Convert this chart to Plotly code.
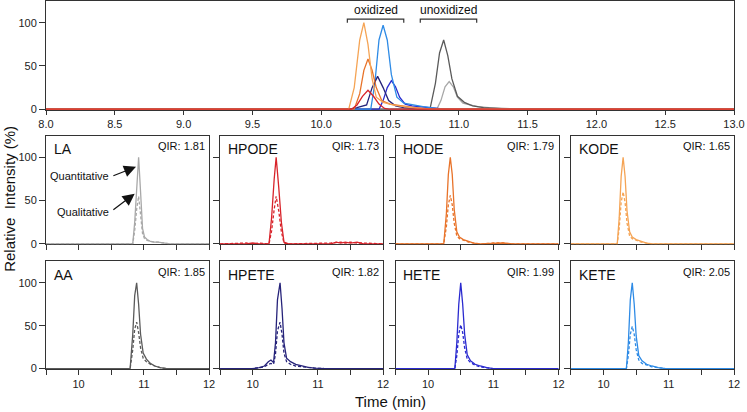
import plotly.graph_objects as go

# ---------------- data ----------------
# Top panel (overlay of quantitative transitions, relative to the strongest peak)
kode_top_t = [8.0, 10.20, 10.24, 10.28, 10.31, 10.34, 10.37, 10.40, 10.45, 10.52, 10.60, 10.70, 10.80, 13.0]
kode_top_v = [0, 0, 25, 80, 100, 75, 35, 14, 8, 5, 3, 1, 0, 0]
hode_top_t = [8.0, 10.24, 10.28, 10.31, 10.34, 10.37, 10.40, 10.44, 10.50, 10.58, 10.68, 10.80, 13.0]
hode_top_v = [0, 0, 18, 45, 58, 45, 25, 10, 6, 4, 2, 0, 0]
hpode_top_t = [8.0, 10.22, 10.26, 10.30, 10.34, 10.38, 10.42, 10.46, 10.50, 13.0]
hpode_top_v = [0, 0, 5, 15, 22, 15, 6, 1, 0, 0]
hpete_top_t = [8.0, 10.20, 10.26, 10.30, 10.33, 10.37, 10.41, 10.45, 10.49, 10.54, 10.60, 10.70, 10.80, 13.0]
hpete_top_v = [0, 0, 2, 4, 5, 25, 38, 25, 10, 4, 2, 1, 0, 0]
kete_top_t = [8.0, 10.36, 10.39, 10.42, 10.45, 10.48, 10.51, 10.55, 10.60, 10.66, 10.74, 10.84, 10.95, 13.0]
kete_top_v = [0, 0, 30, 80, 97, 80, 40, 14, 7, 5, 3, 1, 0, 0]
hete_top_t = [8.0, 10.42, 10.45, 10.48, 10.51, 10.54, 10.57, 10.61, 10.66, 10.72, 10.80, 10.90, 13.0]
hete_top_v = [0, 0, 10, 25, 33, 26, 14, 6, 4, 3, 1, 0, 0]
aa_top_t = [8.0, 10.79, 10.83, 10.86, 10.89, 10.92, 10.95, 10.99, 11.04, 11.10, 11.18, 11.28, 11.40, 13.0]
aa_top_v = [0, 0, 30, 65, 80, 62, 35, 15, 8, 4, 2, 1, 0, 0]
la_top_t = [8.0, 10.84, 10.87, 10.90, 10.93, 10.96, 10.99, 11.03, 11.08, 11.14, 11.22, 11.32, 11.45, 13.0]
la_top_v = [0, 0, 10, 26, 32, 26, 14, 7, 5, 3, 2, 1, 0, 0]

# Small panels: quantitative (solid) and qualitative (dashed) transitions
la_t = [9.5, 10.83, 10.86, 10.89, 10.92, 10.95, 10.98, 11.01, 11.05, 11.10, 11.16, 11.22, 11.30, 11.40, 12.0]
la_quant = [0, 0, 25, 70, 100, 60, 18, 8, 5, 3, 2, 2, 1, 0, 0]
la_qual = [0, 0, 15, 40, 55, 35, 12, 6, 4, 3, 2, 2, 1, 0, 0]

hpode_t = [9.5, 9.9, 10.0, 10.1, 10.25, 10.29, 10.33, 10.36, 10.40, 10.44, 10.48, 10.55, 11.2, 11.28, 11.35, 11.42, 11.5, 11.6, 11.7, 12.0]
hpode_quant = [0, 0, 1, 0, 0, 30, 75, 100, 65, 25, 2, 0, 0, 2, 1, 2, 1, 2, 0, 0]
hpode_qual = [0, 1, 0, 1, 0, 15, 40, 55, 38, 14, 1, 0, 1, 2, 2, 1, 2, 1, 1, 0]

hode_t = [9.5, 10.24, 10.28, 10.31, 10.34, 10.37, 10.40, 10.44, 10.48, 10.54, 10.62, 10.70, 10.80, 11.0, 11.15, 11.3, 12.0]
hode_quant = [0, 0, 35, 80, 100, 80, 40, 14, 8, 5, 3, 1, 0, 1, 1, 0, 0]
hode_qual = [0, 0, 20, 45, 56, 45, 24, 9, 6, 4, 2, 1, 0, 1, 1, 0, 0]

kode_t = [9.5, 10.21, 10.24, 10.27, 10.30, 10.33, 10.36, 10.40, 10.44, 10.50, 10.58, 10.66, 10.74, 12.0]
kode_quant = [0, 0, 30, 78, 100, 78, 38, 14, 8, 5, 3, 1, 0, 0]
kode_qual = [0, 0, 18, 48, 60, 48, 24, 9, 6, 4, 2, 1, 0, 0]

aa_t = [9.5, 10.79, 10.83, 10.86, 10.89, 10.92, 10.95, 10.99, 11.04, 11.10, 11.17, 11.25, 11.35, 12.0]
aa_quant = [0, 0, 40, 85, 100, 75, 40, 18, 11, 6, 3, 1, 0, 0]
aa_qual = [0, 0, 22, 46, 54, 42, 24, 12, 8, 5, 3, 1, 0, 0]

hpete_t = [9.5, 10.0, 10.10, 10.18, 10.24, 10.28, 10.32, 10.35, 10.38, 10.42, 10.45, 10.48, 10.52, 10.58, 10.66, 10.75, 10.85, 10.95, 11.1, 12.0]
hpete_quant = [0, 0, 1, 3, 8, 10, 7, 30, 80, 100, 70, 30, 12, 8, 5, 3, 1.5, 0.5, 0, 0]
hpete_qual = [0, 0, 1, 2, 5, 6, 5, 17, 44, 54, 40, 18, 8, 5, 3, 2, 1, 0.5, 0, 0]

hete_t = [9.5, 10.41, 10.44, 10.47, 10.50, 10.53, 10.56, 10.60, 10.65, 10.72, 10.80, 10.90, 11.0, 12.0]
hete_quant = [0, 0, 30, 75, 100, 75, 40, 16, 9, 5, 3, 1, 0, 0]
hete_qual = [0, 0, 15, 40, 51, 42, 24, 11, 7, 4, 2, 1, 0, 0]

kete_t = [9.5, 10.35, 10.38, 10.41, 10.44, 10.47, 10.50, 10.54, 10.59, 10.66, 10.74, 10.84, 10.95, 12.0]
kete_quant = [0, 0, 30, 80, 100, 75, 38, 15, 9, 5, 3, 1, 0, 0]
kete_qual = [0, 0, 15, 40, 49, 40, 22, 10, 6, 4, 2, 1, 0, 0]

panel_names = ["LA", "HPODE", "HODE", "KODE", "AA", "HPETE", "HETE", "KETE"]
panel_qir = ["QIR: 1.81", "QIR: 1.73", "QIR: 1.79", "QIR: 1.65",
             "QIR: 1.85", "QIR: 1.82", "QIR: 1.99", "QIR: 2.05"]

# bracket extents (time) for the top panel labels
oxidized_span = [10.19, 10.60]
unoxidized_span = [10.72, 11.13]

# ---------------- styling ----------------
C = {
    "LA": "#A8A8A8", "AA": "#5A5A5A", "HPODE": "#D8232A", "HODE": "#E8732A",
    "KODE": "#F5A455", "HPETE": "#26237A", "HETE": "#2A2ACF", "KETE": "#2E8BE6",
}
FONT = "Liberation Sans, Arial, sans-serif"
AX = "#333333"

fig = go.Figure()

top_series = [
    ("LA", la_top_t, la_top_v), ("AA", aa_top_t, aa_top_v),
    ("HETE", hete_top_t, hete_top_v), ("KETE", kete_top_t, kete_top_v),
    ("HPETE", hpete_top_t, hpete_top_v), ("HODE", hode_top_t, hode_top_v),
    ("KODE", kode_top_t, kode_top_v), ("HPODE", hpode_top_t, hpode_top_v),
]
for name, t, v in top_series:
    fig.add_trace(go.Scatter(x=t, y=v, mode="lines", line=dict(color=C[name], width=1.3),
                             xaxis="x", yaxis="y", showlegend=False))

small = {
    "LA": (la_t, la_quant, la_qual), "HPODE": (hpode_t, hpode_quant, hpode_qual),
    "HODE": (hode_t, hode_quant, hode_qual), "KODE": (kode_t, kode_quant, kode_qual),
    "AA": (aa_t, aa_quant, aa_qual), "HPETE": (hpete_t, hpete_quant, hpete_qual),
    "HETE": (hete_t, hete_quant, hete_qual), "KETE": (kete_t, kete_quant, kete_qual),
}

xdoms = [[0.0, 0.237], [0.253, 0.490], [0.508, 0.745], [0.763, 1.0]]
ydom_top = [0.7046, 1.0]
ydom_rows = [[0.3388, 0.6341], [0.0, 0.2927]]

layout = dict(
    width=747, height=412,
    margin=dict(l=46, r=13, t=1, b=43),
    paper_bgcolor="white", plot_bgcolor="white",
    font=dict(family=FONT, size=11, color="#222"),
    showlegend=False,
)

common_axis = dict(showline=True, linecolor=AX, linewidth=1, mirror=True, showgrid=False,
                   zeroline=False, ticks="outside", tickcolor=AX, layer="below traces",
                   tickfont=dict(family=FONT, size=11, color="#222"))

layout["xaxis"] = dict(common_axis, domain=[0, 1], range=[8, 13], anchor="y",
                       tickvals=[8 + 0.5 * i for i in range(11)], tickformat=".1f", ticklen=4)
layout["yaxis"] = dict(common_axis, domain=ydom_top, range=[-0.5, 125], anchor="x",
                       tickvals=[0, 50, 100], ticklen=6)

annotations = []
shapes = []

for i, name in enumerate(panel_names):
    row, col = divmod(i, 4)
    n = i + 2
    xa, ya = f"x{n}", f"y{n}"
    t, q, ql = small[name]
    fig.add_trace(go.Scatter(x=t, y=ql, mode="lines", xaxis=xa, yaxis=ya,
                             line=dict(color=C[name], width=1.3, dash="3px,2px"), showlegend=False))
    fig.add_trace(go.Scatter(x=t, y=q, mode="lines", xaxis=xa, yaxis=ya,
                             line=dict(color=C[name], width=1.3), showlegend=False))
    xt = dict(common_axis, domain=xdoms[col], range=[9.5, 12], anchor=ya,
              tickvals=[9.5, 10, 10.5, 11, 11.5, 12], ticklen=5)
    if row == 0:
        xt["showticklabels"] = False
    else:
        xt["ticktext"] = ["", "10", "", "11", "", "12"]
    layout[f"xaxis{n}"] = xt
    layout[f"yaxis{n}"] = dict(common_axis, domain=ydom_rows[row], range=[-0.5, 125], anchor=xa,
                               tickvals=[0, 50, 100], ticklen=6, showticklabels=(col == 0))
    annotations.append(dict(text=name, xref=f"{xa} domain", yref=f"{ya} domain", x=0.035, y=0.965,
                            xanchor="left", yanchor="top", showarrow=False,
                            font=dict(family=FONT, size=14, color="#111")))
    annotations.append(dict(text=panel_qir[i], xref=f"{xa} domain", yref=f"{ya} domain", x=0.985, y=0.975,
                            xanchor="right", yanchor="top", showarrow=False,
                            font=dict(family=FONT, size=11, color="#111")))

# Brackets in top panel
for span, label in [(oxidized_span, "oxidized"), (unoxidized_span, "unoxidized")]:
    a, b = span
    shapes.append(dict(type="path", xref="x", yref="y",
                       path=f"M {a},100 L {a},104 L {b},104 L {b},100",
                       line=dict(color="#333", width=1.2)))
    annotations.append(dict(text=label, x=(a + b) / 2, y=104, xref="x", yref="y",
                            xanchor="center", yanchor="bottom", showarrow=False,
                            font=dict(family=FONT, size=12, color="#111")))

# Quantitative / Qualitative arrows in LA panel
annotations += [
    dict(text="Quantitative", x=10.50, y=78, xref="x2", yref="y2", xanchor="right", yanchor="middle",
         showarrow=False, font=dict(family=FONT, size=11, color="#111")),
    dict(text="", x=10.88, y=89, ax=10.51, ay=78, xref="x2", yref="y2", axref="x2", ayref="y2",
         showarrow=True, arrowhead=2, arrowsize=2, arrowwidth=1.2, arrowcolor="#111"),
    dict(text="Qualitative", x=10.50, y=37, xref="x2", yref="y2", xanchor="right", yanchor="middle",
         showarrow=False, font=dict(family=FONT, size=11, color="#111")),
    dict(text="", x=10.86, y=58, ax=10.51, ay=38, xref="x2", yref="y2", axref="x2", ayref="y2",
         showarrow=True, arrowhead=2, arrowsize=2, arrowwidth=1.2, arrowcolor="#111"),
]

# Axis titles
annotations += [
    dict(text="Relative  Intensity (%)", xref="paper", yref="paper", x=-0.0535, y=0.463,
         xanchor="center", yanchor="middle", textangle=-90, showarrow=False,
         font=dict(family=FONT, size=15, color="#111")),
    dict(text="Time (min)", xref="paper", yref="paper", x=0.5, y=-0.089,
         xanchor="center", yanchor="middle", showarrow=False,
         font=dict(family=FONT, size=15, color="#111")),
]

layout["annotations"] = annotations
layout["shapes"] = shapes
fig.update_layout(**layout)
fig.write_html("out.html", config={"displayModeBar": False},
               post_script="document.body.style.margin='0';document.body.style.overflow='hidden';")
